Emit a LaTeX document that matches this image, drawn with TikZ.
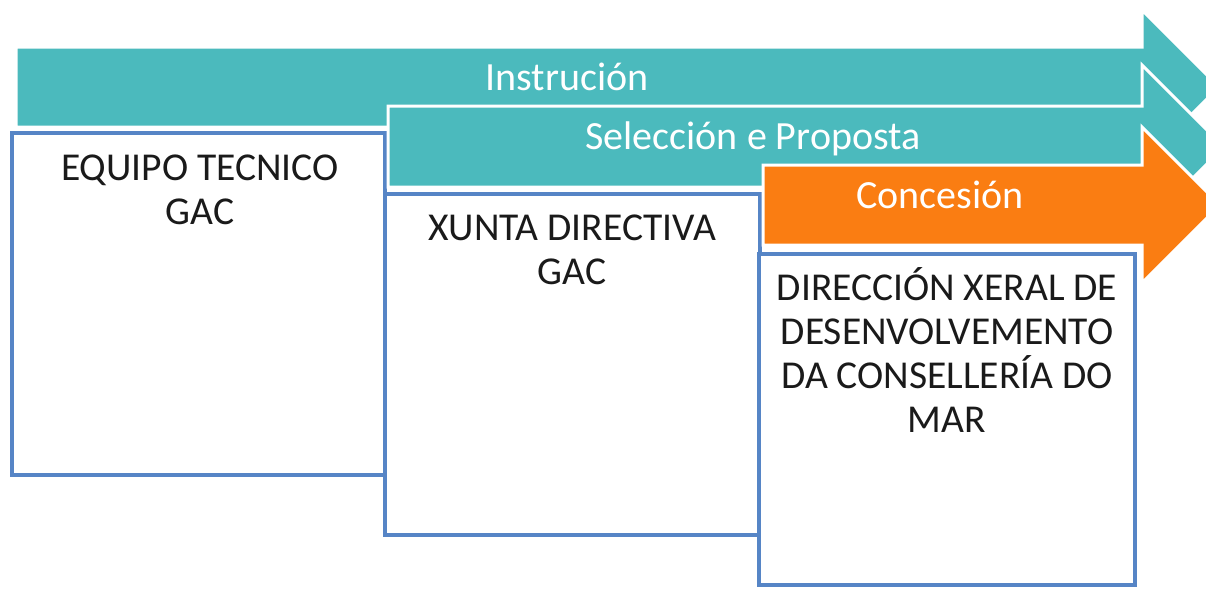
\documentclass[tikz,border=0pt]{standalone}
\usepackage{fontspec}
\setmainfont{Carlito}
\definecolor{teal1}{HTML}{4BBABD}
\definecolor{orng}{HTML}{FA7D12}
\definecolor{bxblue}{HTML}{5685C6}
\definecolor{txt}{HTML}{1A1A1A}
\tikzset{
  tealarrow/.style={fill=teal1, draw=white, line width=3pt, line join=miter},
  orangearrow/.style={fill=orng, draw=white, line width=3pt, line join=miter},
  actorbox/.style={fill=white, draw=bxblue, line width=3.5pt},
  headtext/.style={text=white, font=\fontsize{40}{44}\selectfont, inner sep=0pt, anchor=base},
  boxtext/.style={text=txt, font=\fontsize{39.5}{44}\selectfont, align=center, inner sep=0pt, anchor=north}
}
\begin{document}
\begin{tikzpicture}[x=1pt,y=-1pt]
\useasboundingbox (0,0) rectangle (1206,589);
\clip (0,0) rectangle (1206,589);
% Arrow 1
\draw[tealarrow] (16,47) -- (1142,47) -- (1142,10) -- (1219,87) -- (1142,164) -- (1142,127) -- (16,127) -- cycle;
\node[headtext] (instr) at (567,90) {Instrución};
% Box 1
\draw[actorbox] (12,133) rectangle (385,475);
\node[boxtext] (equipo) at (200,155) {EQUIPO TECNICO\\GAC};
% Arrow 2
\draw[tealarrow] (388,106) -- (1142,106) -- (1142,65) -- (1224,147) -- (1142,229) -- (1142,187) -- (388,187) -- cycle;
\node[headtext] (selec) at (753,149) {Selección e Proposta};
% Box 2
\draw[actorbox] (385,194) rectangle (760,535);
\node[boxtext] (xunta) at (572,215) {XUNTA DIRECTIVA\\GAC};
% Arrow 3
\draw[orangearrow] (763,165) -- (1142,165) -- (1142,127) -- (1220,205) -- (1142,283) -- (1142,245) -- (763,245) -- cycle;
\node[headtext] (conc) at (940,208) {Concesión};
% Box 3
\draw[actorbox] (759,254) rectangle (1135,585);
\node[boxtext] (direc) at (947,267) {DIRECCIÓN XERAL DE\\DESENVOLVEMENTO\\DA CONSELLERÍA DO\\MAR};
\end{tikzpicture}
\end{document}
